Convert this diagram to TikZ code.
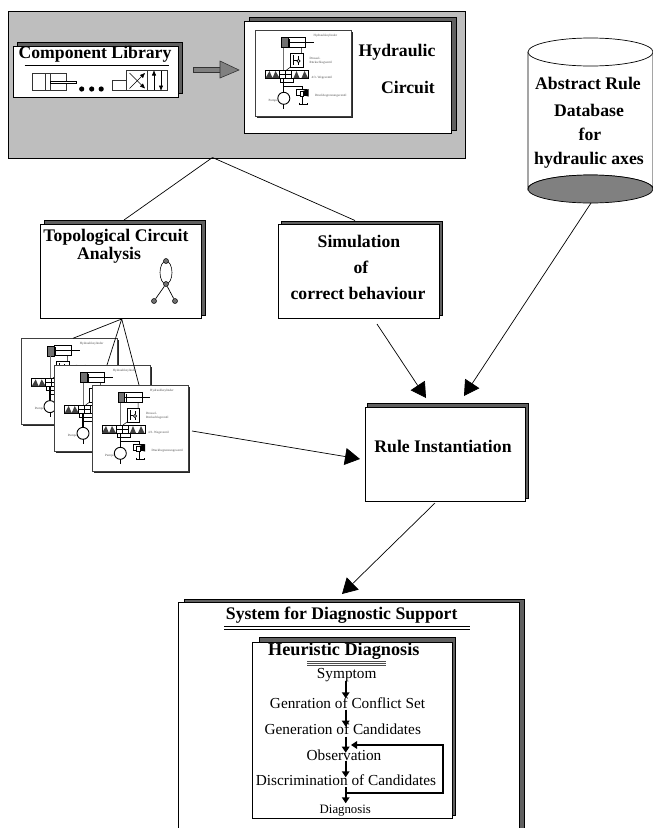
\documentclass[tikz,border=0pt]{standalone}
\usepackage{fontspec}
\setmainfont{Liberation Serif}
\usetikzlibrary{arrows.meta,calc}
\definecolor{bggray}{HTML}{BEBEBE}
\definecolor{shade}{HTML}{606060}
\definecolor{midgray}{HTML}{808080}
\definecolor{wiregray}{HTML}{707070}
\tikzset{
  panel/.style={draw=black,fill=white,line width=.9pt,rectangle,inner sep=0pt,anchor=north west},
  shadowbox/.style={draw=black,fill=shade,line width=.5pt},
  head/.style={font=\bfseries\fontsize{17.7}{20}\selectfont,text height=12pt,text depth=0pt,inner sep=0pt},
  body/.style={font=\fontsize{15.3}{18}\selectfont,text height=10.4pt,text depth=0pt,inner sep=0pt},
  link/.style={draw=black,line width=.7pt},
  bigarrow/.style={link,-{Triangle[length=15pt,width=17pt]}},
  flow/.style={draw=black,line width=2pt,-{Triangle[length=6pt,width=7.5pt]}},
  tinytext/.style={font=\fontsize{3.2}{3.6}\selectfont,inner sep=0pt,text=black!70,anchor=west},
  graphnode/.style={circle,draw=black,fill=wiregray,line width=.5pt,inner sep=0pt,minimum size=5pt},
  circuit/.pic={
    \fill[black!85] (1.5,1.5) rectangle (97.5,87.5);
    \draw[fill=white,line width=.8pt,draw=black!75] (0,0) rectangle (96,86);
    % cylinder
    \draw[fill=wiregray,line width=.6pt] (26,7.5) rectangle (32.5,17.5);
    \draw[fill=white,line width=.7pt] (32.5,7.5) rectangle (50,17.5);
    \draw[line width=1.1pt] (32.5,12.5) -- (58,12.5);
    \draw[line width=.5pt] (34,8.5) -- (34,16.5);
    % wires
    \draw[wiregray,line width=1pt] (28.3,17.5) -- (28.3,40);
    \draw[line width=.5pt] (46,17.5) -- (46,23) (35,37) -- (31,40);
    % check valve
    \draw[fill=white,line width=.6pt] (35,23) rectangle (47.5,37);
    \draw[line width=.6pt] (38,25) -- (38,35) (38,30) -- (41,30);
    \draw[line width=.6pt] (43,31) circle (1.6);
    \draw[line width=.6pt] (43,26) -- (43,29.4) (43,32.6) -- (43,35);
    % directional valve
    \draw[fill=white,line width=.6pt] (10,40) rectangle (53,48);
    \fill[black!75] (10,48) -- (14,41) -- (17,48) -- cycle (17,48) -- (20,41) -- (24,48) -- cycle;
    \fill[black!75] (38,48) -- (41,41) -- (44,48) -- cycle (46,48) -- (49,41) -- (52.5,48) -- cycle;
    \draw[line width=.9pt] (24,40) -- (24,48) (30,40) -- (30,48) (36,40) -- (36,48);
    \draw[line width=1pt] (24,44) -- (36,44);
    \draw[line width=.5pt] (25,48) rectangle (38,52);
    % pressure line
    \draw[line width=1.1pt] (28.3,48) -- (28.3,62.3);
    \draw[line width=.7pt] (28.3,56) -- (47,56) -- (47,59);
    % pressure relief valve
    \draw[fill=white,line width=.7pt] (41,59) rectangle (51,65);
    \fill[black] (47,61) -- (53,59) -- (53,66.5) -- (47,65) -- cycle;
    \draw[fill=white,line width=.3pt] (44.5,61) rectangle (48,66);
    \draw[line width=.7pt] (47.3,66) -- (47.3,74) (44,72.5) -- (44,74) -- (52,74) -- (52,72.5);
    % pump
    \draw[fill=white,line width=.9pt] (28.3,68.3) circle (6);
    \draw[line width=.7pt] (28.3,74.3) -- (28.3,79);
    % labels
    \node[tinytext] (-cyl) at (58,5.3) {Hydraulikzylinder};
    \node[tinytext] (-dr) at (54,28.5) {Drossel-};
    \node[tinytext] (-rs) at (54,32.5) {Rückschlagventil};
    \node[tinytext] (-wv) at (56,47.5) {4/3- Wegeventil};
    \node[tinytext] (-db) at (59.3,65.3) {Druckbegrenzungsventil};
    \node[tinytext] (-pu) at (13,70.3) {Pumpe};
  }
}
% \panelbox{name}{x1}{y1}{x2}{y2}{shadow x1}{shadow y1}{shadow x2}{shadow y2}
\newcommand{\panelbox}[9]{%
  \draw[shadowbox] (#6,#7) rectangle (#8,#9);
  \pgfmathsetmacro{\pw}{#4-#2}\pgfmathsetmacro{\ph}{#5-#3}
  \node[panel,minimum width=\pw pt,minimum height=\ph pt] (#1) at (#2,#3) {};
}
\begin{document}
\begin{tikzpicture}[x=1pt,y=-1pt]
\useasboundingbox (0,0) rectangle (653,828);
\fill[white] (0,0) rectangle (653,828);

% top grey group
\node[panel,fill=bggray,line width=.9pt,minimum width=457pt,minimum height=147pt] (group) at (8,11) {};
\coordinate (groupApex) at (212.5,157.5);

% component library
\panelbox{lib}{13}{46}{178}{97}{17}{42}{182}{93}
\node[head] (libt) at (95,52.7) {Component Library};
\coordinate (ula) at (24.7,65.3); \coordinate (ulb) at (169,65.3);
\draw[line width=.8pt] (ula) -- (ulb);
\draw[fill=white,line width=.7pt,draw=black!80] (32,73.3) rectangle (66,90);
\draw[fill=white,line width=.7pt,draw=black!80] (45.7,73.3) rectangle (50,90);
\draw[fill=white,line width=.6pt] (50,81) rectangle (76.7,83.3);
\foreach \dx in {81.7,91.7,101.2} \fill (\dx,89) circle (2.6);
\draw[fill=white,line width=.7pt,draw=black!80] (112.7,80) rectangle (126.7,90);
\draw[fill=white,line width=.7pt,draw=black!80] (126.7,70.7) rectangle (167.3,90);
\draw[line width=.7pt,draw=black!80] (147,70.7) -- (147,90);
\draw[line width=.6pt,-{Triangle[length=5pt,width=4pt]}] (129.5,88.5) -- (145,73);
\draw[line width=.6pt,-{Triangle[length=5pt,width=4pt]}] (129.5,73) -- (145,88.5);
\draw[line width=.6pt,-{Triangle[length=5pt,width=4pt]}] (154,90) -- (154,70.5);
\draw[line width=.6pt,-{Triangle[length=5pt,width=4pt]}] (161,70.7) -- (161,90.5);

% big arrow
\draw[draw=black!80,fill=midgray,line width=.6pt] (193,67.3) rectangle (220,72.3);
\draw[draw=black!80,fill=midgray,line width=.6pt] (220,61) -- (239,70) -- (220,78) -- cycle;

% hydraulic circuit panel
\panelbox{hyd}{244}{20.5}{450.5}{133}{249}{17}{456}{130}
\pic (c0) at (255.5,30) {circuit};
\node[head] (hyd1) at (397,50) {Hydraulic};
\node[head] (hyd2) at (408,87) {Circuit};

% database
\draw[fill=white,line width=.7pt] (528,52) -- (528,189) arc[start angle=180,end angle=360,x radius=62.5,y radius=14] -- (653,52);
\draw[fill=midgray,line width=.7pt] (590.5,189) ellipse[x radius=62.5,y radius=14];
\draw[fill=white,line width=.7pt] (590.5,52) ellipse[x radius=62.5,y radius=14];
\node[head] (db1) at (588,83) {Abstract Rule};
\node[head] (db2) at (589,110) {Database};
\node[head] (db3) at (590,134) {for};
\node[head] (db4) at (589,158) {hydraulic axes};
\coordinate (dbOut) at (591,203);

% topological panel
\panelbox{topo}{40}{223.5}{200.5}{318}{44}{220}{205}{315}
\coordinate (topoIn) at (124,220);
\coordinate (topoOut) at (121.7,319);
\node[head] (topo1) at (116,235) {Topological Circuit};
\node[head] (topo2) at (109,253) {Analysis};
\draw[line width=.6pt] (166,272.5) ellipse[x radius=6,y radius=11.5];
\node[graphnode] (gt) at (166,261) {};
\node[graphnode] (gm) at (166,284) {};
\node[graphnode] (gl) at (154,301) {};
\node[graphnode] (gr) at (175,301) {};
\draw[line width=.7pt] (gm) -- (gl) (gm) -- (gr);

% simulation panel
\panelbox{sim}{278}{224}{439}{318}{281}{221}{442}{315}
\coordinate (simIn) at (355,220.5);
\coordinate (simOut) at (377,324);
\node[head] (sim1) at (359,241) {Simulation};
\node[head] (sim2) at (361,267) {of};
\node[head] (sim3) at (358,293) {correct behaviour};

% circuit copies
\pic (c1) at (21.7,338.3) {circuit};
\pic (c2) at (54.7,365) {circuit};
\pic (c3) at (92,385) {circuit};
\coordinate (c1In) at (73,338.3);
\coordinate (c2In) at (107,365);
\coordinate (c3In) at (139,385);
\coordinate (c3Out) at (192,431);

% rule instantiation
\panelbox{rule}{364.5}{407}{525}{501}{367}{403}{528}{498}
\node[head] (rulet) at (443,446) {Rule Instantiation};
\coordinate (ruleA) at (426,398);
\coordinate (ruleB) at (464,396);
\coordinate (ruleC) at (360,459);
\coordinate (ruleOut) at (435,503);

% connectors
\draw[link] (groupApex) -- (topoIn);
\draw[link] (groupApex) -- (simIn);
\draw[link] (topoOut) -- (c1In);
\draw[link] (topoOut) -- (c2In);
\draw[link] (topoOut) -- (c3In);
\draw[bigarrow] (simOut) -- (ruleA);
\draw[bigarrow] (dbOut) -- (ruleB);
\draw[bigarrow] (c3Out) -- (ruleC);

% system panel
\draw[shadowbox] (184,599) rectangle (524,840);
\draw[panel,fill=white] (178,602) rectangle (519,840);
\coordinate (sysIn) at (342,594);
\draw[bigarrow] (ruleOut) -- (sysIn);
\node[head] (syst) at (341.7,613) {System for Diagnostic Support};
\draw[line width=.7pt] (224,626.7) -- (470,626.7) (224,629.2) -- (470,629.2);

% heuristic panel
\panelbox{heur}{252}{641.7}{451.7}{818}{259}{637}{455}{815}
\node[head,font=\bfseries\fontsize{18.2}{20}\selectfont] (heurt) at (343.8,649) {Heuristic Diagnosis};
\draw[line width=.5pt,draw=black!70] (307,661.3) -- (386,661.3) (307,663.3) -- (386,663.3) (307,665.3) -- (386,665.3);
\node[body] (s1) at (346.7,673) {Symptom};
\node[body] (s2) at (347.5,703.3) {Genration of Conflict Set};
\node[body] (s3) at (342.8,729) {Generation of Candidates};
\node[body] (s4) at (344,755.3) {Observation};
\node[body] (s5) at (346,780.3) {Discrimination of Candidates};
\node[body,font=\fontsize{12.8}{15}\selectfont,text height=8.7pt,text depth=0pt] (s6) at (345.3,809) {Diagnosis};
\coordinate (a1s) at (345.7,680.7); \coordinate (a1e) at (345.7,698.3);
\coordinate (a2s) at (345.7,709.5); \coordinate (a2e) at (345.7,726.7);
\coordinate (a3s) at (345.7,736.7); \coordinate (a3e) at (345.7,752.7);
\coordinate (a4s) at (345.7,760.7); \coordinate (a4e) at (345.7,777.3);
\coordinate (a5s) at (345.7,787.3); \coordinate (a5e) at (345.7,803.3);
\draw[flow] (a1s) -- (a1e);
\draw[flow] (a2s) -- (a2e);
\draw[flow] (a3s) -- (a3e);
\draw[flow] (a4s) -- (a4e);
\draw[flow] (a5s) -- (a5e);
\coordinate (loopS) at (346.7,793.3); \coordinate (loopE) at (351,745);
\draw[flow,line join=miter] (loopS) -- (443.3,793.3) -- (443.3,745) -- (loopE);
\end{tikzpicture}
\end{document}
